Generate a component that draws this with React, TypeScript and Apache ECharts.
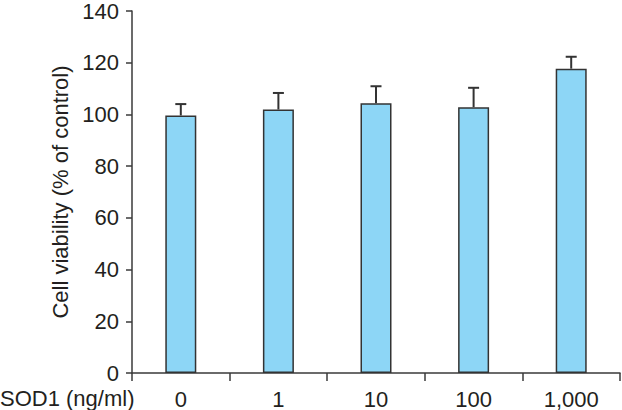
import React, { useEffect, useRef } from "react";
import * as echarts from "echarts";

const categories = ["0", "1", "10", "100", "1,000"];
const viability = [99.6, 101.9, 104.3, 102.8, 117.7];
const errorTop = [104.0, 108.3, 110.9, 110.3, 122.3];
const yTicks = { min: 0, max: 140, interval: 20 };
const yAxisTitle = "Cell viability (% of control)";
const xAxisTitle = "SOD1 (ng/ml)";

const FONT = "'Liberation Sans', Arial, Helvetica, sans-serif";
const TEXT = "#231f20";
const AXIS = "#3a3a3a";
const FS = 22;

export default function App() {
  const ref = useRef<HTMLDivElement>(null);
  useEffect(() => {
    if (!ref.current) return;
    const chart = echarts.init(ref.current, undefined, { renderer: "svg" });
    const errData = categories.map((_, i) => [i, viability[i], errorTop[i]]);
    chart.setOption({
      animation: false,
      textStyle: { fontFamily: FONT },
      grid: { left: 132, right: 2, top: 9, bottom: 37, containLabel: false },
      xAxis: {
        type: "category",
        data: categories,
        boundaryGap: true,
        axisLine: { lineStyle: { color: AXIS, width: 1.5 } },
        axisTick: { show: true, length: 8, lineStyle: { color: AXIS, width: 1.5 } },
        axisLabel: { color: TEXT, fontSize: FS, fontFamily: FONT, margin: 15 },
      },
      yAxis: {
        type: "value",
        min: yTicks.min,
        max: yTicks.max,
        interval: yTicks.interval,
        name: yAxisTitle,
        nameLocation: "middle",
        nameGap: 57,
        nameTextStyle: { color: TEXT, fontSize: FS, fontFamily: FONT },
        axisLine: { show: true, lineStyle: { color: AXIS, width: 1.5 } },
        axisTick: { show: true, length: 6, lineStyle: { color: AXIS, width: 1.5 } },
        axisLabel: { color: TEXT, fontSize: FS, fontFamily: FONT, margin: 13 },
        splitLine: { show: false },
      },
      graphic: [
        {
          type: "text",
          x: 0,
          y: 398,
          style: {
            text: xAxisTitle,
            fill: TEXT,
            font: `${FS}px ${FONT}`,
            verticalAlign: "middle",
            align: "left",
          },
        },
      ],
      series: [
        {
          type: "bar",
          data: viability,
          barWidth: 31,
          itemStyle: { color: "#8dd6f6", borderColor: "#333", borderWidth: 1.5 },
          z: 2,
        },
        {
          type: "custom",
          data: errData,
          z: 3,
          renderItem: (params: any, api: any) => {
            const x = api.value(0);
            const base = api.coord([x, api.value(1)]);
            const top = api.coord([x, api.value(2)]);
            const half = 5.5;
            const style = { stroke: "#333", lineWidth: 2 };
            return {
              type: "group",
              children: [
                { type: "line", shape: { x1: base[0], y1: base[1], x2: top[0], y2: top[1] }, style },
                { type: "line", shape: { x1: top[0] - half, y1: top[1], x2: top[0] + half, y2: top[1] }, style },
              ],
            };
          },
        },
      ],
    });
    return () => chart.dispose();
  }, []);
  return <div ref={ref} style={{ position: "absolute", left: 0, top: 0, width: 622, height: 410 }} />;
}
